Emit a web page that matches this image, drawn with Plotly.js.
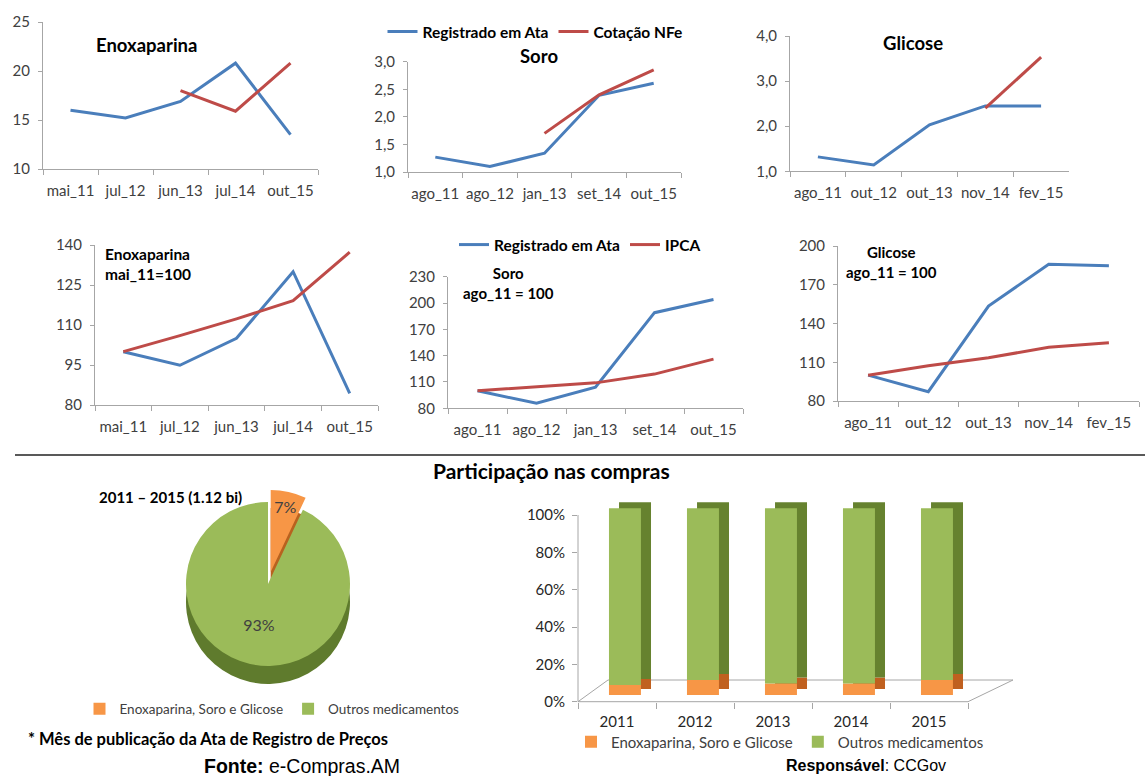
<!DOCTYPE html>
<html><head><meta charset="utf-8">
<script src="https://cdn.plot.ly/plotly-3.0.1.min.js"></script>
<style>html,body{margin:0;padding:0;background:#fff}</style>
</head><body><div id="chart" style="width:1145px;height:776px"></div>
<script>
// ---------- data ----------
const enoxCats = ['mai_11','jul_12','jun_13','jul_14','out_15'];
const enoxAta  = [16.0, 15.2, 16.9, 20.8, 13.5];
const enoxNFe  = [null, null, 18.0, 15.9, 20.8];
const soroCats = ['ago_11','ago_12','jan_13','set_14','out_15'];
const soroAta  = [1.27, 1.10, 1.34, 2.39, 2.61];
const soroNFe  = [null, null, 1.70, 2.40, 2.85];
const glicCats = ['ago_11','out_12','out_13','nov_14','fev_15'];
const glicAta  = [1.32, 1.14, 2.03, 2.45, 2.45];
const glicNFe  = [null, null, null, 2.40, 3.53];
const enoxIdxAta  = [100, 94.9, 105, 130, 84.4];
const enoxIdxIPCA = [100, 106, 112.3, 119.1, 137.3];
const soroIdxAta  = [100, 85.7, 104, 189, 204];
const soroIdxIPCA = [100, 104.6, 109, 119, 136];
const glicIdxAta  = [100, 87.2, 153.5, 185.8, 184.8];
const glicIdxIPCA = [100, 107.3, 113.5, 121.6, 125.1];
const pieLabels = ['Enoxaparina, Soro e Glicose','Outros medicamentos'];
const pieValues = [7, 93];
const years = ['2011','2012','2013','2014','2015'];
const shareESG = [5.3, 8.0, 6.2, 6.2, 8.0];
const shareOutros = shareESG.map(v => 100 - v);
const pctTicks = [0, 20, 40, 60, 80, 100];
const pctLabels = ['0%','20%','40%','60%','80%','100%'];

// ---------- styling ----------
const W = 1145, H = 776;
const fx = p => p / W, fy = p => 1 - p / H;
const BLUE = '#4A7EBB', RED = '#BE4B48';
const ORANGE = '#F79646', GREEN = '#9BBB59';
const AXC = '#a6a6a6', TXT = '#404040';
const FONT = 'Lato, Calibri, sans-serif';
const ARIAL = 'Liberation Sans, Arial, sans-serif';

const layout = {
  width: W, height: H, margin: {l:0, r:0, t:0, b:0},
  paper_bgcolor: '#fff', plot_bgcolor: 'rgba(0,0,0,0)',
  separators: ',.', barmode: 'overlay', showlegend: true,
  font: {family: FONT, color: TXT},
  annotations: [], shapes: []
};

function addAxes(n, x0, x1, y0, y1, yr, dtick, fmt) {
  const s = n === 1 ? '' : String(n);
  layout['xaxis' + s] = {
    domain: [fx(x0), fx(x1)], anchor: 'y' + s, type: 'category',
    range: [-0.5, 4.5], tickson: 'boundaries', ticks: 'outside', ticklen: 5,
    tickcolor: AXC, showline: true, linecolor: AXC, linewidth: 1, tickangle: 0,
    showgrid: false, zeroline: false, fixedrange: true, ticklabelstandoff: 8,
    tickfont: {family: FONT, size: 15, color: TXT}
  };
  layout['yaxis' + s] = {
    domain: [fy(y1), fy(y0)], anchor: 'x' + s, range: yr, dtick: dtick, tick0: yr[0],
    tickformat: fmt, ticks: 'outside', ticklen: 4, tickcolor: AXC,
    showline: true, linecolor: AXC, linewidth: 1, showgrid: false, zeroline: false,
    fixedrange: true, ticklabelstandoff: 5,
    tickfont: {family: FONT, size: 15, color: TXT}
  };
}
addAxes(1, 43, 318, 22, 169, [10, 25], 5, '');
addAxes(2, 408, 681, 61.7, 172, [1, 3], 0.5, '.1f');
addAxes(3, 790, 1069, 36, 171.3, [1, 4], 1, '.1f');
addAxes(4, 95, 378, 245, 405, [80, 140], 15, '');
addAxes(5, 448, 743, 276.7, 408.3, [80, 230], 30, '');
addAxes(6, 838, 1139, 246, 401, [80, 200], 30, '');

// bar chart axes
const BAR_X0 = 578, BAR_X1 = 1013, BAND = 78;
const Y0PX = 701.7, PXPCT = 1.867, BAR_TOP = 490;
layout.xaxis7 = {
  domain: [fx(BAR_X0), fx(BAR_X1)], anchor: 'y7', type: 'category',
  range: [-0.5, -0.5 + (BAR_X1 - BAR_X0) / BAND], tickson: 'boundaries', tickangle: 0,
  ticks: 'outside', ticklen: 6, tickcolor: AXC, showline: false, showgrid: false,
  zeroline: false, fixedrange: true, ticklabelstandoff: 9,
  tickfont: {family: FONT, size: 15, color: '#262626'}
};
layout.yaxis7 = {
  domain: [fy(Y0PX), fy(BAR_TOP)], anchor: 'x7', range: [0, (Y0PX - BAR_TOP) / PXPCT],
  tickmode: 'array', tickvals: pctTicks, ticktext: pctLabels, ticks: 'outside', ticklen: 5,
  tickcolor: AXC, showline: false, showgrid: false, zeroline: false, fixedrange: true,
  ticklabelstandoff: 4, tickfont: {family: FONT, size: 15, color: '#262626'}
};

// ---------- traces ----------
const traces = [];
function lines(n, cats, a, b, nameA, nameB, leg) {
  const s = n === 1 ? '' : String(n);
  traces.push({type: 'scatter', mode: 'lines', x: cats, y: a, name: nameA,
    line: {color: BLUE, width: 3}, xaxis: 'x' + s, yaxis: 'y' + s,
    showlegend: !!leg, legend: leg || 'legend', hoverinfo: 'skip'});
  traces.push({type: 'scatter', mode: 'lines', x: cats, y: b, name: nameB,
    line: {color: RED, width: 3}, xaxis: 'x' + s, yaxis: 'y' + s,
    showlegend: !!leg, legend: leg || 'legend', hoverinfo: 'skip', connectgaps: false});
}
lines(1, enoxCats, enoxAta, enoxNFe, 'Registrado em Ata', 'Cotação NFe', null);
lines(2, soroCats, soroAta, soroNFe, 'Registrado em Ata', 'Cotação NFe', 'legend');
lines(3, glicCats, glicAta, glicNFe, 'Registrado em Ata', 'Cotação NFe', null);
lines(4, enoxCats, enoxIdxAta, enoxIdxIPCA, 'Registrado em Ata', 'IPCA', null);
lines(5, soroCats, soroIdxAta, soroIdxIPCA, 'Registrado em Ata', 'IPCA', 'legend2');
lines(6, glicCats, glicIdxAta, glicIdxIPCA, 'Registrado em Ata', 'IPCA', null);

// pie (with a darker copy underneath to suggest depth)
const PIE_CX = 268, PIE_CY = 584, PIE_R = 82, PULL = 0.15, DEPTHPX = 18;
const half = PIE_R * (1 + PULL);
function pieDomain(dy) {
  return {x: [fx(PIE_CX - half), fx(PIE_CX + half)],
          y: [fy(PIE_CY + dy + half), fy(PIE_CY + dy - half)]};
}
traces.push({type: 'pie', labels: pieLabels, values: pieValues, sort: false,
  direction: 'clockwise', rotation: 0, pull: [PULL, 0],
  marker: {colors: ['#B8621F', '#5F7B2D']}, textinfo: 'none', showlegend: false,
  hoverinfo: 'skip', domain: pieDomain(DEPTHPX)});
traces.push({type: 'pie', labels: pieLabels, values: pieValues, sort: false,
  direction: 'clockwise', rotation: 0, pull: [PULL, 0],
  marker: {colors: [ORANGE, GREEN]}, textinfo: 'percent', textposition: 'inside',
  insidetextorientation: 'horizontal',
  textfont: {family: FONT, size: 16, color: TXT}, legend: 'legend3',
  hoverinfo: 'skip', domain: pieDomain(0)});

// bars: darker back copy for depth, then front faces
const FRONT_BASE = 3.6, DEPTH = 3.2, BW = 0.41;
traces.push({type: 'bar', x: years, y: shareESG, base: years.map(() => FRONT_BASE + DEPTH),
  offset: 0.026, width: BW, marker: {color: '#C0601F'}, xaxis: 'x7', yaxis: 'y7',
  showlegend: false, hoverinfo: 'skip'});
traces.push({type: 'bar', x: years, y: shareOutros, base: shareESG.map(v => v + FRONT_BASE + DEPTH),
  offset: 0.026, width: BW, marker: {color: '#66822F'}, xaxis: 'x7', yaxis: 'y7',
  showlegend: false, hoverinfo: 'skip'});
traces.push({type: 'bar', x: years, y: shareESG, base: years.map(() => FRONT_BASE),
  offset: -0.103, width: BW, marker: {color: ORANGE}, xaxis: 'x7', yaxis: 'y7',
  name: 'Enoxaparina, Soro e Glicose', legend: 'legend4', hoverinfo: 'skip'});
traces.push({type: 'bar', x: years, y: shareOutros, base: shareESG.map(v => v + FRONT_BASE),
  offset: -0.103, width: BW, marker: {color: GREEN}, xaxis: 'x7', yaxis: 'y7',
  name: 'Outros medicamentos', legend: 'legend4', hoverinfo: 'skip'});

// ---------- legends ----------
const legBase = {orientation: 'h', xanchor: 'center', yanchor: 'middle', bgcolor: 'rgba(0,0,0,0)',
  borderwidth: 0, traceorder: 'normal'};
layout.legend  = Object.assign({}, legBase, {x: fx(535), y: fy(32),
  font: {family: FONT, size: 15.5, color: '#000', weight: 'bold'}});
layout.legend2 = Object.assign({}, legBase, {x: fx(580), y: fy(245),
  font: {family: FONT, size: 15.5, color: '#000', weight: 'bold'}});
layout.legend3 = Object.assign({}, legBase, {x: fx(272), y: fy(709),
  font: {family: FONT, size: 13.5, color: TXT}});
layout.legend4 = Object.assign({}, legBase, {x: fx(780), y: fy(742),
  font: {family: FONT, size: 15, color: TXT}});

// ---------- text ----------
function note(text, x, y, size, opts) {
  layout.annotations.push(Object.assign({text: text, x: fx(x), y: fy(y), xref: 'paper', yref: 'paper',
    xanchor: 'center', yanchor: 'middle', showarrow: false,
    font: {family: FONT, size: size, color: '#000'}}, opts || {}));
}
note('<b>Enoxaparina</b>', 146, 45, 18.5);
note('<b>Soro</b>', 539, 56, 18.5);
note('<b>Glicose</b>', 913, 43, 18.5);
note('<b>Enoxaparina<br>mai_11=100</b>', 103, 264, 15.5, {xanchor: 'left', align: 'left'});
note('<b>Soro<br>ago_11 = 100</b>', 508, 283, 15);
note('<b>Glicose<br>ago_11 = 100</b>', 891, 262, 15);
note('<b>Participação nas compras</b>', 551, 471, 21);
note('<b>2011 – 2015 (1.12 bi)</b>', 170, 497, 15);
note('<b>* Mês de publicação da Ata de Registro de Preços</b>', 26, 739, 16.5, {xanchor: 'left'});
note('<b>Fonte:</b> e-Compras.AM', 302, 766, 19.5, {font: {family: ARIAL, size: 19.5, color: '#000'}});
note('<b>Responsável</b>: CCGov', 866, 765, 16, {font: {family: ARIAL, size: 16, color: '#000'}});

// ---------- shapes ----------
layout.shapes.push({type: 'line', xref: 'paper', yref: 'paper', x0: fx(15), x1: fx(1145),
  y0: fy(455), y1: fy(455), line: {color: '#595959', width: 2}});
layout.shapes.push({type: 'line', xref: 'paper', yref: 'paper', x0: fx(BAR_X0), x1: fx(BAR_X0),
  y0: fy(Y0PX), y1: fy(Y0PX - 100 * PXPCT), line: {color: AXC, width: 1}, layer: 'below'});
const floorPath = 'M ' + fx(BAR_X0) + ' ' + fy(Y0PX) + ' L ' + fx(BAR_X0 + 5 * BAND) + ' ' + fy(Y0PX) +
  ' L ' + fx(BAR_X1) + ' ' + fy(680) + ' L ' + fx(608) + ' ' + fy(680) + ' Z';
layout.shapes.push({type: 'path', xref: 'paper', yref: 'paper', path: floorPath,
  line: {color: AXC, width: 1}, fillcolor: 'rgba(0,0,0,0)', layer: 'below'});

Plotly.newPlot('chart', traces, layout, {staticPlot: true, displayModeBar: false});
</script>
</body></html>
